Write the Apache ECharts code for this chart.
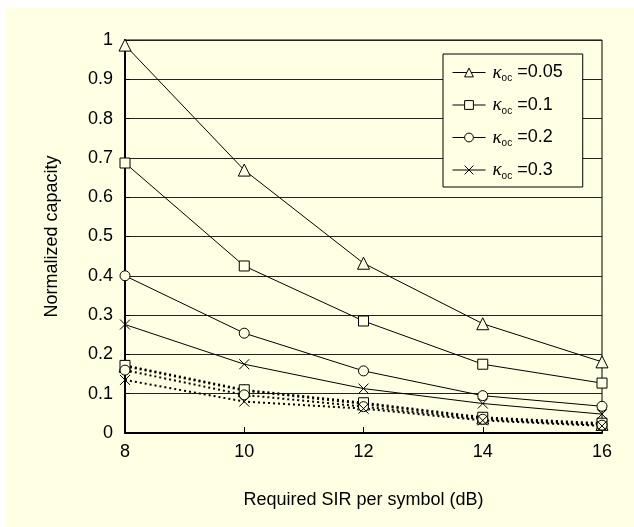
<!DOCTYPE html>
<html>
<head>
<meta charset="utf-8">
<script src="https://cdn.jsdelivr.net/npm/echarts@6/dist/echarts.min.js"></script>
<style>
html,body{margin:0;padding:0;background:#ffffff;}
#chart{position:absolute;left:0;top:0;width:634px;height:527px;}
</style>
</head>
<body>
<div id="chart"></div>
<script>
// ---- data ----
const sir = [8, 10, 12, 14, 16];
const xTicks = [8, 10, 12, 14, 16];
const legendLabels = ['0.05', '0.1', '0.2', '0.3'];
// solid lines
const kappa005 = [0.987, 0.669, 0.432, 0.278, 0.181];
const kappa01 = [0.687, 0.425, 0.285, 0.175, 0.127];
const kappa02 = [0.400, 0.254, 0.158, 0.095, 0.068];
const kappa03 = [0.276, 0.175, 0.113, 0.075, 0.048];
// dotted lines
const kappa005b = [0.170, 0.108, 0.074, 0.038, 0.022];
const kappa01b = [0.172, 0.110, 0.077, 0.040, 0.025];
const kappa02b = [0.160, 0.097, 0.067, 0.035, 0.020];
const kappa03b = [0.135, 0.080, 0.062, 0.032, 0.018];

const BG = '#ffffe3';
const FONT = 'Liberation Sans, Arial, sans-serif';
const crossPath = 'path://M0,0L10,10M10,0L0,10';
const symbols = ['triangle', 'rect', 'circle', crossPath];
const solid = [kappa005, kappa01, kappa02, kappa03];
const dotted = [kappa005b, kappa01b, kappa02b, kappa03b];

function pairs(ys) { return sir.map((x, i) => [x, ys[i]]); }

const series = [];
solid.forEach((ys, i) => {
  series.push({
    name: 'k' + legendLabels[i],
    type: 'line',
    data: pairs(ys),
    symbol: symbols[i],
    symbolSize: i === 0 ? 12 : 10,
    showAllSymbol: true,
    lineStyle: { color: '#000', width: 1 },
    itemStyle: { color: BG, borderColor: '#000', borderWidth: 1 },
    emphasis: { disabled: true },
    z: 3
  });
});
dotted.forEach((ys, i) => {
  series.push({
    name: 'd' + legendLabels[i],
    type: 'line',
    data: pairs(ys),
    symbol: symbols[i],
    symbolSize: i === 0 ? 12 : 10,
    lineStyle: { color: '#000', width: 2, type: [2, 3] },
    itemStyle: { color: BG, borderColor: '#000', borderWidth: 1 },
    emphasis: { disabled: true },
    z: 2
  });
});

const chart = echarts.init(document.getElementById('chart'), null, { renderer: 'canvas' });
chart.setOption({
  animation: false,
  backgroundColor: 'transparent',
  graphic: [{
    type: 'rect', left: 6, top: 8, z: -10,
    shape: { width: 628, height: 519 },
    style: { fill: BG }
  }],
  grid: {
    left: 125, top: 40, right: 32, bottom: 94,
    show: true, borderColor: '#000', borderWidth: 1, backgroundColor: 'transparent'
  },
  xAxis: {
    type: 'value', min: 8, max: 16, interval: 2,
    name: 'Required SIR per symbol (dB)', nameLocation: 'middle', nameGap: 58,
    nameTextStyle: { color: '#000', fontSize: 18, fontFamily: FONT },
    axisLine: { show: true, lineStyle: { color: '#000', width: 2 } },
    axisTick: { show: true, inside: true, length: 6, lineStyle: { color: '#000' } },
    axisLabel: { color: '#000', fontSize: 18, fontFamily: FONT, margin: 10,
      formatter: v => xTicks.includes(v) ? String(v) : '' },
    splitLine: { show: false }
  },
  yAxis: {
    type: 'value', min: 0, max: 1, interval: 0.1,
    name: 'Normalized capacity', nameLocation: 'middle', nameGap: 64,
    nameTextStyle: { color: '#000', fontSize: 18, fontFamily: FONT },
    axisLine: { show: true, lineStyle: { color: '#000', width: 2 } },
    axisTick: { show: true, inside: true, length: 5, lineStyle: { color: '#000' } },
    axisLabel: { color: '#000', fontSize: 18, fontFamily: FONT, margin: 12 },
    splitLine: { show: true, lineStyle: { color: '#222', width: 1 } }
  },
  legend: {
    data: legendLabels.map(l => 'k' + l),
    orient: 'vertical',
    left: 443, top: 54,
    padding: [9, 20, 6, 9],
    itemGap: 12,
    itemWidth: 33, itemHeight: 11,
    backgroundColor: BG,
    borderColor: '#000', borderWidth: 1,
    selectedMode: false,
    lineStyle: { width: 1, color: '#000' },
    itemStyle: { color: BG, borderColor: '#000', borderWidth: 1 },
    formatter: name => '{k|κ}{s|oc} =' + name.slice(1),
    textStyle: {
      color: '#000', fontSize: 18, fontFamily: FONT, padding: [0, 0, 0, 2],
      rich: {
        k: { fontSize: 19, fontStyle: 'italic', fontFamily: 'Liberation Serif, Times New Roman, serif', lineHeight: 22, color: '#000' },
        s: { fontSize: 10, fontFamily: FONT, lineHeight: 12, verticalAlign: 'bottom', color: '#000' }
      }
    }
  },
  series: series
});
</script>
</body>
</html>
